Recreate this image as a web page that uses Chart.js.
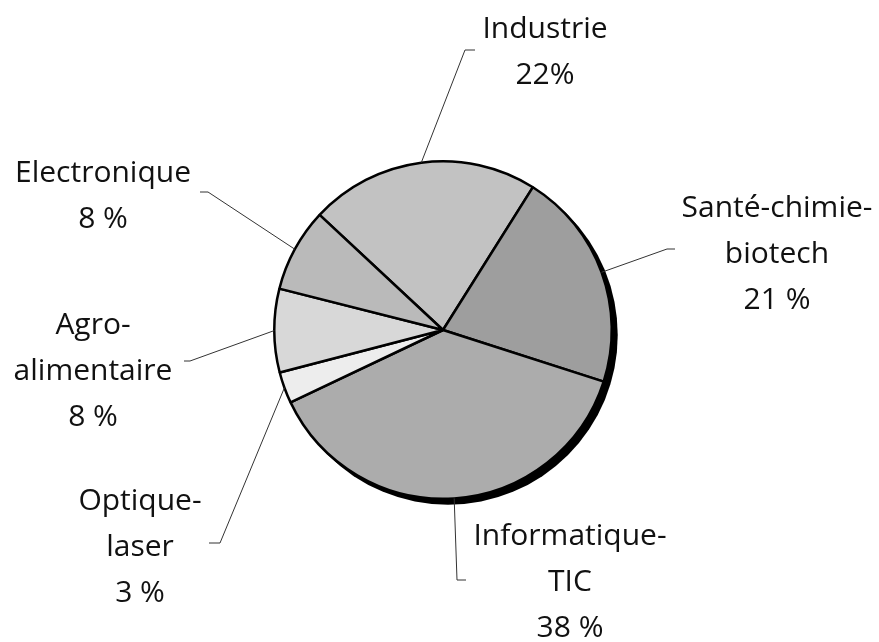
<!DOCTYPE html>
<html>
<head>
<meta charset="utf-8">
<script src="https://cdn.jsdelivr.net/npm/chart.js@4.4.0/dist/chart.umd.min.js"></script>
<style>
  html, body { margin: 0; padding: 0; background: #fff; }
  #wrap { width: 879px; height: 642px; }
</style>
</head>
<body>
<div id="wrap"><canvas id="pieChart" width="879" height="642"></canvas></div>
<script>
// Secteurs (ordre horaire, en partant de Industrie)
const sectors = ['Industrie', 'Santé-chimie-biotech', 'Informatique-TIC', 'Optique-laser', 'Agroalimentaire', 'Electronique'];
const shares = [22, 21, 38, 3, 8, 8];
const labelLines = [
    ['Industrie', '22%'],
    ['Santé-chimie-', 'biotech', '21 %'],
    ['Informatique-', 'TIC', '38 %'],
    ['Optique-', 'laser', '3 %'],
    ['Agro-', 'alimentaire', '8 %'],
    ['Electronique', '8 %']
];
const sliceColors = ['#c2c2c2', '#9e9e9e', '#acacac', '#ededed', '#d8d8d8', '#bababa'];

// where each label sits: text centre x, first baseline y, bend point of the leader line, end of leader line
const labelLayout = [
    { x: 545, y: 38, bend: [465, 50], end: [475, 50] },
    { x: 777, y: 217, bend: [667, 249], end: [675, 249] },
    { x: 570, y: 545, bend: [457, 580], end: [466, 580] },
    { x: 140, y: 510, bend: [220, 543], end: [209, 543] },
    { x: 93, y: 334, bend: [190, 361], end: [184, 361] },
    { x: 103, y: 182, bend: [208, 192], end: [200, 192] }
];
const lineGap = 46;

// black drop shadow under the pie
const shadowPlugin = {
    id: 'shadow',
    beforeDatasetsDraw(chart) {
        const arc = chart.getDatasetMeta(0).data[0];
        if (!arc) return;
        const ctx = chart.ctx;
        ctx.save();
        ctx.fillStyle = '#000';
        ctx.beginPath();
        ctx.arc(arc.x + 5, arc.y + 5, arc.outerRadius + 1, 0, Math.PI * 2);
        ctx.fill();
        ctx.restore();
    }
};

// labels with leader lines
const leaderLabels = {
    id: 'leaderLabels',
    afterDatasetsDraw(chart) {
        const ctx = chart.ctx;
        const meta = chart.getDatasetMeta(0);
        ctx.save();
        meta.data.forEach((arc, i) => {
            const mid = (arc.startAngle + arc.endAngle) / 2;
            const sx = arc.x + Math.cos(mid) * arc.outerRadius;
            const sy = arc.y + Math.sin(mid) * arc.outerRadius;
            const lay = labelLayout[i];
            ctx.strokeStyle = '#333';
            ctx.lineWidth = 1;
            ctx.beginPath();
            ctx.moveTo(sx, sy);
            ctx.lineTo(lay.bend[0], lay.bend[1]);
            ctx.lineTo(lay.end[0], lay.end[1]);
            ctx.stroke();

            ctx.fillStyle = '#111';
            ctx.font = '30px "Open Sans", sans-serif';
            ctx.textAlign = 'center';
            ctx.textBaseline = 'alphabetic';
            labelLines[i].forEach((t, j) => {
                ctx.fillText(t, lay.x, lay.y + j * lineGap);
            });
        });
        ctx.restore();
    }
};

new Chart(document.getElementById('pieChart').getContext('2d'), {
    type: 'pie',
    data: {
        labels: sectors,
        datasets: [{
            data: shares,
            backgroundColor: sliceColors,
            borderColor: '#000',
            borderWidth: 2.5
        }]
    },
    options: {
        responsive: false,
        animation: false,
        rotation: -47,
        layout: { padding: { top: 160, bottom: 142, left: 273, right: 266 } },
        plugins: {
            legend: { display: false },
            tooltip: { enabled: false }
        }
    },
    plugins: [shadowPlugin, leaderLabels]
});
</script>
</body>
</html>
